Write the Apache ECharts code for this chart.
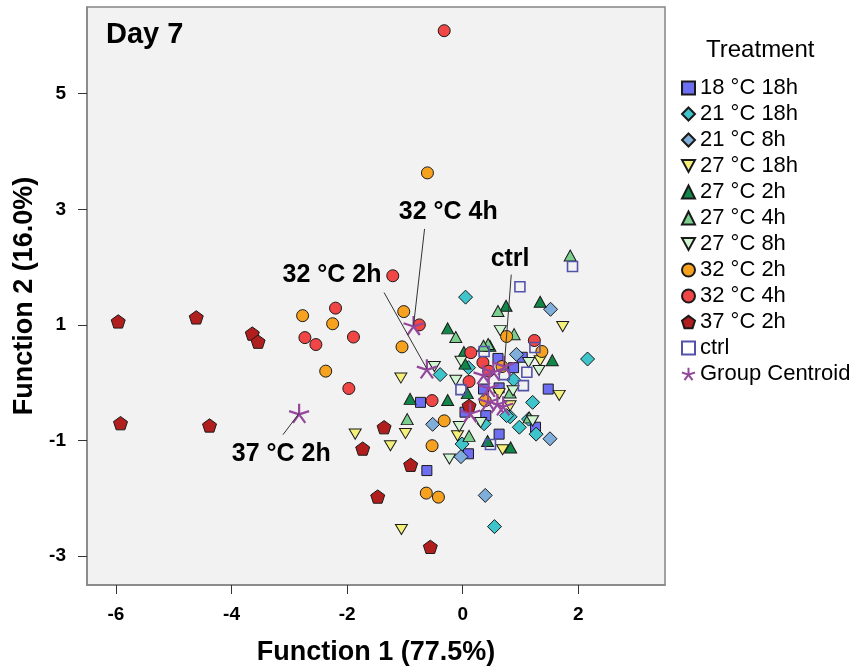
<!DOCTYPE html>
<html><head><meta charset="utf-8">
<script src="https://cdn.jsdelivr.net/npm/echarts@6/dist/echarts.min.js"></script>
<style>html,body{margin:0;padding:0;background:#fff}#c{width:853px;height:666px}</style>
</head><body><div id="c"></div>
<script>
// ---------- data ----------
const groupNames = ['18 °C 18h','21 °C 18h','21 °C 8h','27 °C 18h','27 °C 2h','27 °C 4h','27 °C 8h','32 °C 2h','32 °C 4h','37 °C 2h','ctrl'];
const pts18C18h = [[-0.73,-0.34],[-0.62,-1.52],[0.10,-1.23],[0.63,-0.89],[1.26,-0.77],[1.48,-0.11],[1.03,0.44],[0.61,0.42],[0.88,0.26],[0.36,-0.11],[0.63,-0.09],[0.04,-0.51],[0.40,-0.57]];
const pts21C18h = [[0.05,1.48],[2.16,0.41],[-0.39,0.14],[0.10,0.26],[0.88,0.05],[1.21,-0.34],[0.82,-0.59],[0.98,-0.77],[1.27,-0.89],[0.37,-0.71],[-0.01,-1.06],[0.55,-2.49],[1.14,-0.63],[0.76,-0.57]];
const pts21C8h = [[1.52,1.27],[0.93,0.49],[-0.52,-0.72],[-0.03,-1.28],[1.51,-0.97],[0.39,-1.95]];
const pts27C18h = [[-1.86,-0.89],[1.73,0.97],[-1.07,0.08],[-0.99,-0.88],[-1.25,-1.09],[-1.06,-2.54],[-0.09,-0.92],[0.69,-1.16],[1.67,-0.22],[1.34,0.38],[0.63,-0.19],[0.82,-0.40]];
const pts27C2h = [[0.75,1.33],[1.34,1.40],[-0.26,0.94],[1.55,0.39],[-0.91,-0.28],[-0.26,-0.30],[0.43,-1.01],[0.83,-1.12],[0.02,0.53],[0.08,-0.18],[0.04,0.33],[0.47,0.64]];
const pts27C4h = [[1.86,2.20],[0.61,1.24],[-0.12,0.79],[0.89,0.84],[0.44,0.67],[-0.96,-0.63],[0.11,-0.92],[1.15,-0.60],[0.36,0.64],[0.82,-0.17]];
const pts27C8h = [[0.65,0.90],[-0.49,0.28],[-0.03,0.37],[-0.12,0.04],[1.14,0.35],[1.32,0.21],[0.87,-0.14],[-0.23,-1.32],[-0.06,-0.76],[1.21,-0.66],[0.31,-0.69]];
const pts32C2h = [[-0.61,3.63],[-2.77,1.16],[-2.25,1.02],[-2.37,0.20],[-1.02,1.23],[-1.05,0.62],[0.76,0.80],[1.37,0.54],[0.39,-0.31],[-0.32,-0.66],[-0.53,-1.09],[-0.63,-1.91],[-0.42,-1.98],[0.68,0.28]];
const pts32C4h = [[-0.32,6.09],[-1.21,1.85],[-2.20,1.29],[-2.73,0.78],[-2.54,0.66],[-1.89,0.79],[-1.97,-0.10],[-0.75,1.00],[1.24,0.73],[0.14,0.52],[0.35,0.35],[-0.53,-0.31],[0.11,0.02],[0.45,0.20]];
const pts37C2h = [[-5.96,1.06],[-4.61,1.13],[-3.64,0.85],[-3.54,0.71],[-5.92,-0.70],[-4.38,-0.74],[-1.73,-1.14],[-1.47,-1.97],[-1.36,-0.77],[-0.90,-1.42],[-0.56,-2.84],[0.11,-0.40]];
const ptsCtrl = [[1.90,2.01],[0.99,1.66],[0.37,0.54],[1.25,0.61],[1.11,0.18],[1.05,-0.05],[0.72,0.14],[-0.03,-0.12],[0.48,-1.07]];
const groupPoints = [pts18C18h,pts21C18h,pts21C8h,pts27C18h,pts27C2h,pts27C4h,pts27C8h,pts32C2h,pts32C4h,pts37C2h,ptsCtrl];

// group centroids (same order as groupNames)
const centroidF1 = [0.44, 0.70, 0.60, 0.13, 0.36, 0.53, 0.45, -0.62, -0.85, -2.83, 0.72];
const centroidF2 = [-0.32, -0.40, -0.36, -0.52, 0.14, 0.20, -0.08, 0.24, 0.99, -0.53, 0.30];

const xTicks = [-6,-4,-2,0,2];
const yTicks = [-3,-1,1,3,5];

// centroid annotations
const annoText = ['32 °C 4h','32 °C 2h','ctrl','37 °C 2h'];
const annoGroup = [8,7,10,9];
const annoTextAt = [[-0.25,2.95],[-2.26,1.87],[0.82,2.14],[-3.14,-1.24]];
const annoLineFrom = [[-0.66,2.66],[-1.36,1.56],[0.84,1.87],[-3.11,-0.90]];

// ---------- styles ----------
const PENT = 'path://M0,-10L9.51,-3.09L5.88,8.09L-5.88,8.09L-9.51,-3.09Z';
const STAR = 'path://M0,0L0,-10M0,0L9.51,-3.09M0,0L5.88,8.09M0,0L-5.88,8.09M0,0L-9.51,-3.09';
const DOWN = 'path://M0,0L12,0L6,11Z';
const groupStyles = [
  {symbol:'rect', size:10, color:'#6E6EF2'},
  {symbol:'diamond', size:14, color:'#3EC4CB'},
  {symbol:'diamond', size:14, color:'#80AEDB'},
  {symbol:DOWN, size:[12,11], color:'#F5F07A'},
  {symbol:'triangle', size:[12,11], color:'#13874A'},
  {symbol:'triangle', size:[12,11], color:'#7ACF8E'},
  {symbol:DOWN, size:[12,11], color:'#D2F5D2'},
  {symbol:'circle', size:12, color:'#F7A21E'},
  {symbol:'circle', size:12, color:'#F04646'},
  {symbol:PENT, size:14, color:'#B01E1E'},
  {symbol:'rect', size:10, color:'rgba(0,0,0,0)', border:'#5353AA', bw:1.6}
];
const FONT = '"Liberation Sans", Arial, sans-serif';

const series = groupNames.map((n,i)=>{
  const s = groupStyles[i];
  return {
    name:n, type:'scatter', data:groupPoints[i],
    symbol:s.symbol, symbolSize:s.size, symbolKeepAspect:true,
    itemStyle:{color:s.color, borderColor:s.border||'#1a1a1a', borderWidth:s.bw||1, opacity:1},
    emphasis:{disabled:true}, z:2
  };
});
series.push({
  name:'Group Centroid', type:'scatter',
  data:centroidF1.map((x,i)=>[x,centroidF2[i]]),
  symbol:STAR, symbolSize:20, symbolKeepAspect:true,
  itemStyle:{color:'rgba(0,0,0,0)', borderColor:'#94479C', borderWidth:2.2, opacity:1},
  emphasis:{disabled:true}, z:3
});
series.push({
  name:'anno', type:'scatter',
  data:annoText.map((t,i)=>({name:t, value:annoTextAt[i]})),
  symbol:'circle', symbolSize:1, itemStyle:{color:'#f2f2f2', opacity:1},
  label:{show:true, position:'inside', formatter:'{b}', fontSize:25, fontWeight:'bold',
         color:'#000', textBorderWidth:0, textBorderColor:'transparent', opacity:1, fontFamily:FONT},
  emphasis:{disabled:true}, z:4, silent:true,
  markLine:{
    silent:true, animation:false, symbol:['none','none'], label:{show:false},
    lineStyle:{color:'#333', width:1, type:'solid', opacity:1},
    emphasis:{disabled:true},
    data:annoText.map((t,i)=>[{coord:annoLineFrom[i]},{coord:[centroidF1[annoGroup[i]],centroidF2[annoGroup[i]]]}])
  }
});

const chart = echarts.init(document.getElementById('c'), null, {renderer:'canvas'});
chart.setOption({
  animation:false,
  backgroundColor:'#fff',
  textStyle:{fontFamily:FONT},
  title:[
    {text:'Day 7', left:106, top:20, padding:0, textStyle:{fontSize:29, fontWeight:'bold', color:'#000', fontFamily:FONT}},
    {text:'Treatment', left:706, top:38, padding:0, textStyle:{fontSize:24, fontWeight:'normal', color:'#000', fontFamily:FONT}}
  ],
  legend:{
    data:groupNames.concat(['Group Centroid']),
    orient:'vertical', left:681, top:77, padding:0,
    itemWidth:13, itemHeight:13, itemGap:4,
    textStyle:{fontSize:22, color:'#000', lineHeight:22, fontFamily:FONT},
    selectedMode:false
  },
  grid:{show:true, left:87, top:7, width:578, height:578, outerBoundsMode:'none', containLabel:false,
        backgroundColor:'#f2f2f2', borderColor:'#858585', borderWidth:1.5},
  xAxis:{
    type:'value', min:-6.5, max:3.5,
    splitLine:{show:false},
    axisLine:{show:true, onZero:false, lineStyle:{color:'#858585', width:1.5}},
    axisTick:{show:true, length:9, customValues:xTicks, lineStyle:{color:'#333'}},
    axisLabel:{customValues:xTicks, fontSize:19, fontWeight:'bold', color:'#000', margin:20, fontFamily:FONT},
    name:'Function 1 (77.5%)', nameLocation:'middle', nameGap:54,
    nameTextStyle:{fontSize:27, fontWeight:'bold', color:'#000', fontFamily:FONT}
  },
  yAxis:{
    type:'value', min:-3.5, max:6.5,
    splitLine:{show:false},
    axisLine:{show:true, onZero:false, lineStyle:{color:'#858585', width:1.5}},
    axisTick:{show:true, length:9, customValues:yTicks, lineStyle:{color:'#333'}},
    axisLabel:{customValues:yTicks, fontSize:19, fontWeight:'bold', color:'#000', margin:21, fontFamily:FONT},
    name:'Function 2 (16.0%)', nameLocation:'middle', nameGap:43,
    nameTextStyle:{fontSize:27, fontWeight:'bold', color:'#000', fontFamily:FONT}
  },
  series:series
});
</script></body></html>
